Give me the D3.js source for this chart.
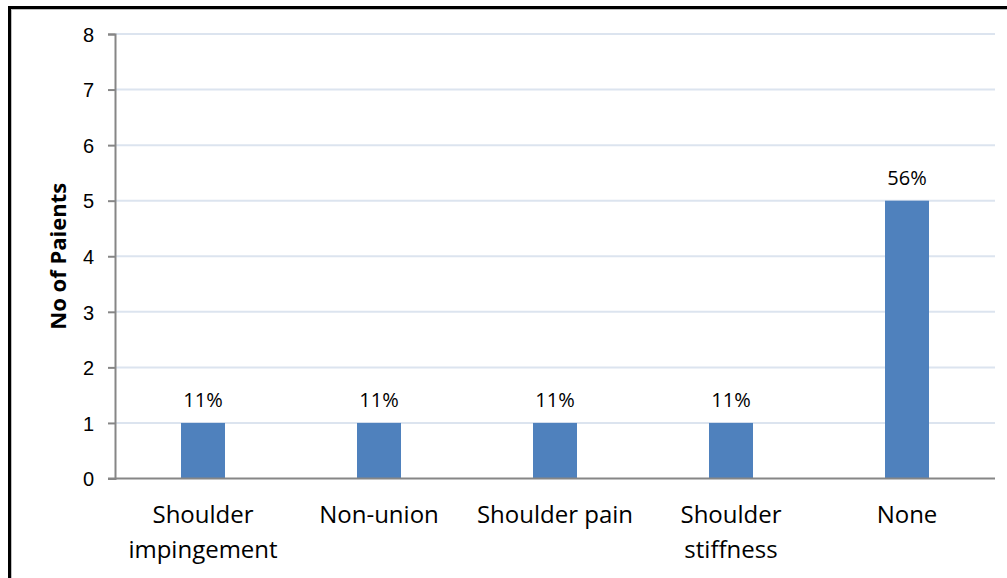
<!DOCTYPE html>
<html>
<head>
<meta charset="utf-8">
<script src="https://cdn.jsdelivr.net/npm/d3@7/dist/d3.min.js"></script>
<style>
  body { margin: 0; background: #fff; }
  svg { display: block; font-family: "Open Sans", sans-serif; }
</style>
</head>
<body>
<div id="chart"></div>
<script>
const categories = [["Shoulder", "impingement"], ["Non-union"], ["Shoulder pain"], ["Shoulder", "stiffness"], ["None"]]
const patients = [1, 1, 1, 1, 5]
const percents = ["11%", "11%", "11%", "11%", "56%"]
const yTicks = [0, 1, 2, 3, 4, 5, 6, 7, 8]

const width = 1007, height = 578
const margin = {top: 34, right: 12, bottom: 99.5, left: 115}

const svg = d3.select("#chart").append("svg")
    .attr("width", width)
    .attr("height", height)

// outer frame (cut at right and bottom as in the picture)
svg.append("rect")
    .attr("x", 9.5).attr("y", 7.5)
    .attr("width", 1010).attr("height", 600)
    .attr("fill", "none")
    .attr("stroke", "#000")
    .attr("stroke-width", 3)
svg.append("rect")
    .attr("x", 11.5).attr("y", 9.5)
    .attr("width", 1010).attr("height", 600)
    .attr("fill", "none")
    .attr("stroke", "#bfbfbf")
    .attr("stroke-width", 1)

const keys = categories.map((c, i) => i)

const x = d3.scaleBand()
    .domain(keys)
    .range([margin.left, width - margin.right])
    .paddingInner(0.75)
    .paddingOuter(0.375)

const y = d3.scaleLinear()
    .domain([0, 8])
    .range([height - margin.bottom, margin.top])

// gridlines
svg.append("g")
    .selectAll("line")
    .data(yTicks.filter(d => d > 0))
    .enter().append("line")
    .attr("x1", margin.left)
    .attr("x2", width - margin.right)
    .attr("y1", d => y(d))
    .attr("y2", d => y(d))
    .style("stroke", "#dce4ef")
    .style("stroke-width", "2px")

// y axis
let yAxis = svg.append("g")
    .attr("transform", `translate(${margin.left},0)`)
    .call(d3.axisLeft(y).tickValues(yTicks).tickSize(7).tickPadding(14).tickFormat(d3.format("d")))
yAxis.select(".domain").attr("stroke", "#868686").attr("stroke-width", 2)
yAxis.selectAll(".tick line").attr("stroke", "#868686").attr("stroke-width", 2)
yAxis.selectAll(".tick text")
    .style("font-size", "20px")
    .style("fill", "#000")
    .attr("dy", "0.36em")

// bars
svg.append("g")
    .selectAll("rect")
    .data(patients)
    .enter().append("rect")
    .attr("x", (d, i) => x(i))
    .attr("y", d => y(d))
    .attr("width", x.bandwidth())
    .attr("height", d => y(0) - y(d))
    .style("fill", "#4f81bd")

// x axis line
svg.append("line")
    .attr("x1", margin.left - 7)
    .attr("x2", width - margin.right)
    .attr("y1", y(0))
    .attr("y2", y(0))
    .style("stroke", "#868686")
    .style("stroke-width", "2px")

// data labels
svg.append("g")
    .selectAll("text")
    .data(patients)
    .enter().append("text")
    .attr("x", (d, i) => x(i) + x.bandwidth() / 2)
    .attr("y", d => y(d) - 16)
    .style("text-anchor", "middle")
    .style("font-size", "20px")
    .style("fill", "#000")
    .text((d, i) => percents[i])

// category labels
let catLabel = svg.append("g")
    .selectAll("text")
    .data(categories)
    .enter().append("text")
    .attr("x", (d, i) => x(i) + x.bandwidth() / 2)
    .attr("y", 523)
    .style("text-anchor", "middle")
    .style("font-size", "24px")
    .style("fill", "#000")
catLabel.selectAll("tspan")
    .data(d => d)
    .enter().append("tspan")
    .attr("x", function() { return this.parentNode.getAttribute("x") })
    .attr("dy", (d, j) => j == 0 ? 0 : 35)
    .text(d => d)

// y axis title
svg.append("text")
    .attr("transform", `translate(66,${(y(0) + y(8)) / 2}) rotate(-90)`)
    .style("text-anchor", "middle")
    .style("font-size", "22px")
    .style("font-weight", "bold")
    .style("fill", "#000")
    .text("No of Paients")
</script>
</body>
</html>
